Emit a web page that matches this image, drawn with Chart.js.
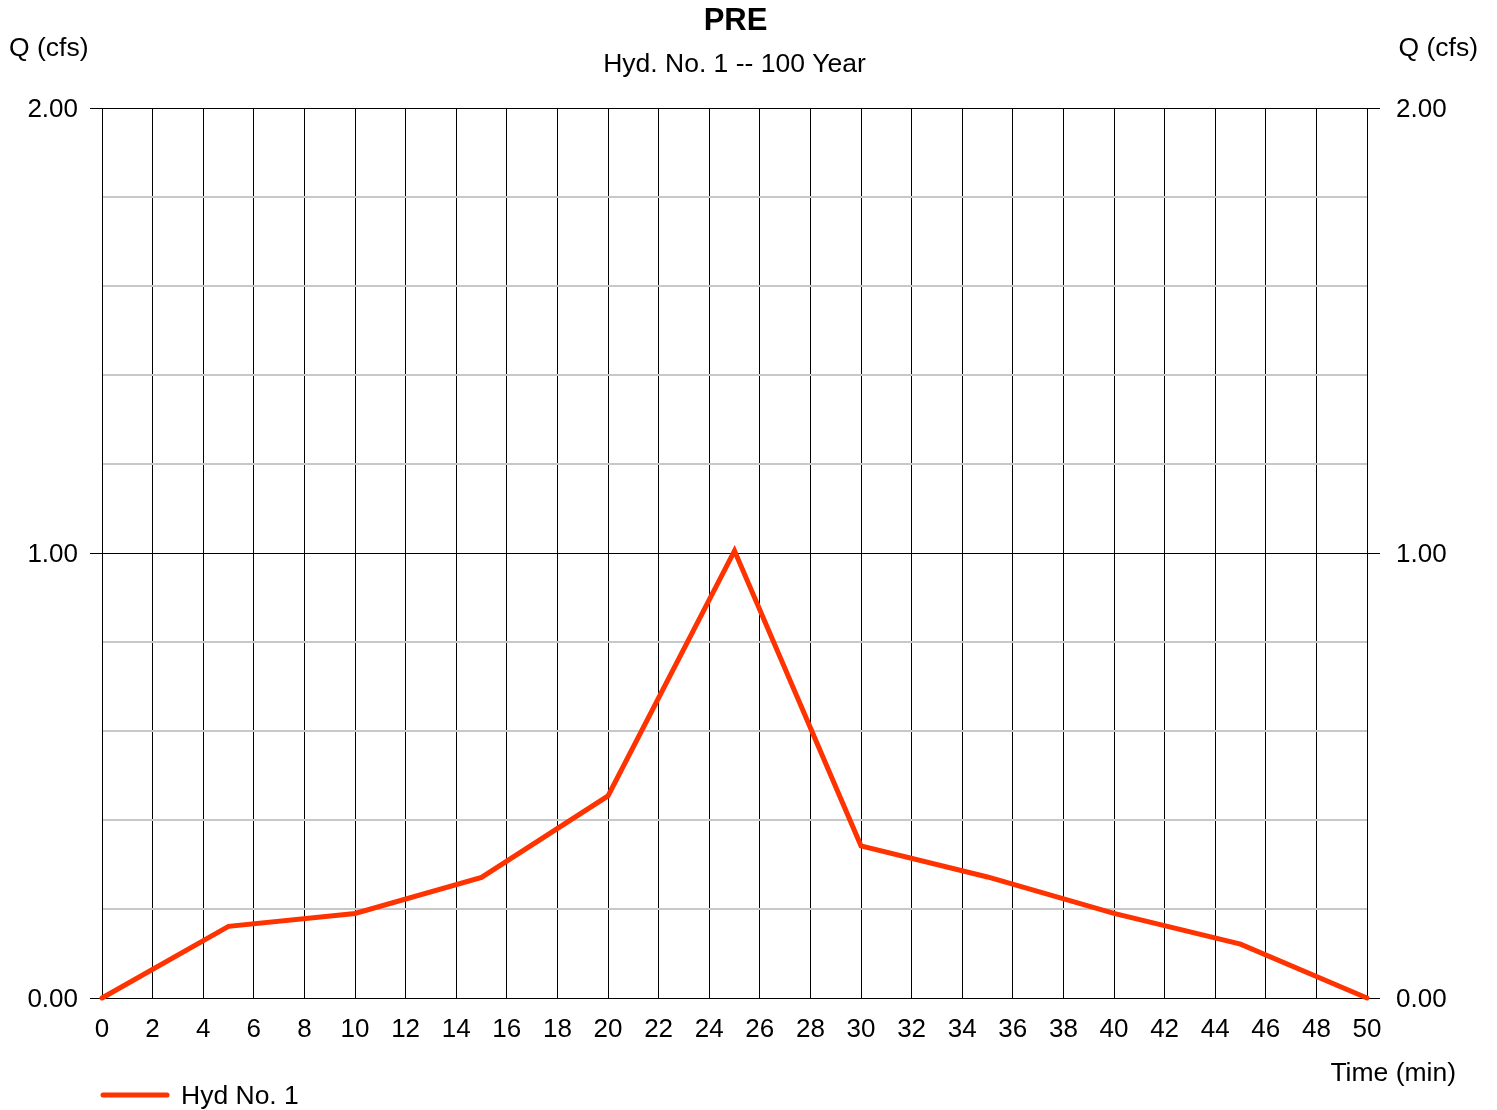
<!DOCTYPE html>
<html>
<head>
<meta charset="utf-8">
<title>PRE - Hyd. No. 1</title>
<script src="https://cdn.jsdelivr.net/npm/chart.js@4.4.1/dist/chart.umd.min.js"></script>
<style>
  html, body { margin: 0; padding: 0; background: #ffffff; }
  #wrap { width: 1497px; height: 1110px; position: relative; }
</style>
</head>
<body>
<div id="wrap"><canvas id="grafica" width="1497" height="1110"></canvas></div>
<script>
const tiempoMin = [0, 5, 10, 15, 20, 25, 30, 35, 40, 45, 50];
const caudalCfs = [0, 0.161, 0.190, 0.271, 0.454, 1.005, 0.342, 0.272, 0.190, 0.121, 0];
const etiquetasY = [0, 1, 2]; // solo estas llevan texto en el eje Q
const tituloGrafica = 'PRE';
const subtituloGrafica = 'Hyd. No. 1 -- 100 Year';
const nombreSerie = 'Hyd No. 1';

const FUENTE = '"Liberation Sans", Arial, sans-serif';
const ROJO = '#ff3300';

function esMayor(v) {
    return etiquetasY.some(e => Math.abs(e - v) < 1e-6);
}

// textos fuera del area: titulos, ejes y leyenda
const textosExtra = {
    id: 'textosExtra',
    afterDraw(chart) {
        const ctx = chart.ctx;
        const area = chart.chartArea;
        const cx = (area.left + area.right) / 2;
        ctx.save();
        ctx.fillStyle = '#000';
        ctx.textBaseline = 'middle';

        ctx.textAlign = 'center';
        ctx.font = 'bold 31px ' + FUENTE;
        ctx.fillText(tituloGrafica, cx + 1, 21);
        ctx.font = '26.5px ' + FUENTE;
        ctx.fillText(subtituloGrafica, cx, 65);

        ctx.font = '26.5px ' + FUENTE;
        ctx.textAlign = 'left';
        ctx.fillText('Q (cfs)', 9, 49);
        ctx.textAlign = 'right';
        ctx.fillText('Q (cfs)', 1478, 49);
        ctx.fillText('Time (min)', 1456, 1074);

        // leyenda
        const ds = chart.data.datasets[0];
        ctx.strokeStyle = ds.borderColor;
        ctx.lineWidth = 5;
        ctx.lineCap = 'round';
        ctx.beginPath();
        ctx.moveTo(area.left + 1, 1095);
        ctx.lineTo(area.left + 65, 1095);
        ctx.stroke();
        ctx.textAlign = 'left';
        ctx.fillText(ds.label, 181, 1097);
        ctx.restore();
    }
};

const puntos = tiempoMin.map((t, i) => ({ x: t, y: caudalCfs[i] }));

const ctx = document.getElementById('grafica').getContext('2d');
window.miGrafica = new Chart(ctx, {
    type: 'line',
    data: {
        datasets: [{
            label: nombreSerie,
            data: puntos,
            borderColor: ROJO,
            borderWidth: 5,
            borderJoinStyle: 'miter',
            borderCapStyle: 'round',
            pointRadius: 0,
            tension: 0,
            fill: false,
            clip: false
        }]
    },
    options: {
        responsive: false,
        animation: false,
        events: [],
        layout: { padding: { top: 108, left: 0, right: 0, bottom: 0 } },
        plugins: {
            legend: { display: false },
            tooltip: { enabled: false },
            title: { display: false }
        },
        scales: {
            x: {
                type: 'linear',
                min: 0,
                max: 50,
                position: 'bottom',
                afterFit: s => { s.height = 112; },
                grid: {
                    color: '#000',
                    lineWidth: 1,
                    drawTicks: false
                },
                border: { color: '#000', width: 1 },
                ticks: {
                    stepSize: 2,
                    autoSkip: false,
                    maxRotation: 0,
                    padding: 16,
                    color: '#000',
                    font: { family: FUENTE, size: 26 }
                }
            },
            y: {
                type: 'linear',
                min: 0,
                max: 2,
                position: 'left',
                afterFit: s => { s.width = 102; },
                grid: {
                    color: c => esMayor(c.tick.value) ? '#000' : '#c8c8c8',
                    lineWidth: c => esMayor(c.tick.value) ? 1 : 2,
                    tickColor: c => esMayor(c.tick.value) ? '#000' : 'rgba(0,0,0,0)',
                    tickLength: 12,
                    tickWidth: 1
                },
                border: { color: '#000', width: 1 },
                ticks: {
                    stepSize: 0.2,
                    padding: 12,
                    labelOffset: 2,
                    color: '#000',
                    font: { family: FUENTE, size: 26 },
                    callback: v => esMayor(v) ? Number(v).toFixed(2) : ''
                }
            },
            y2: {
                type: 'linear',
                min: 0,
                max: 2,
                position: 'right',
                afterFit: s => { s.width = 130; },
                grid: {
                    drawOnChartArea: false,
                    tickColor: c => esMayor(c.tick.value) ? '#000' : 'rgba(0,0,0,0)',
                    tickLength: 13,
                    tickWidth: 1
                },
                border: { color: '#000', width: 1 },
                ticks: {
                    stepSize: 0.2,
                    padding: 16,
                    labelOffset: 2,
                    color: '#000',
                    font: { family: FUENTE, size: 26 },
                    callback: v => esMayor(v) ? Number(v).toFixed(2) : ''
                }
            }
        }
    },
    plugins: [textosExtra]
});
</script>
</body>
</html>
